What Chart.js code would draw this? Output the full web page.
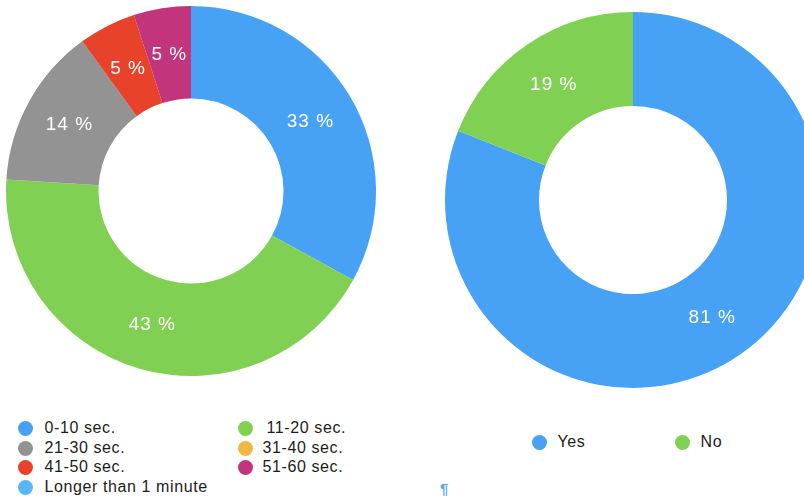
<!DOCTYPE html>
<html>
<head>
<meta charset="utf-8">
<script src="https://cdn.jsdelivr.net/npm/chart.js@4"></script>
<style>
  html, body { margin: 0; padding: 0; background: #fff; }
  body { width: 804px; height: 500px; position: relative; overflow: hidden;
         font-family: "Liberation Sans", Arial, Helvetica, sans-serif; }
  .wrap { position: absolute; }
  .key { position: absolute; height: 20px; line-height: 20px; font-size: 16px;
         letter-spacing: 0.6px; color: #1c1c1c; white-space: nowrap; }
  .dot { position: absolute; width: 15px; height: 15px; border-radius: 50%; top: 2.5px; }
  .pil { position: absolute; left: 440px; top: 480px; font-size: 15px; font-weight: bold; color: #5aa8ee; }
</style>
</head>
<body>
<div class="wrap" id="w1" style="left:6px;top:6px;width:370px;height:370px"><canvas id="timeChart"></canvas></div>
<div class="wrap" id="w2" style="left:445px;top:12px;width:376px;height:376px"><canvas id="yesNoChart"></canvas></div>
<div id="legend1"></div>
<div id="legend2"></div>
<div class="pil">¶</div>
<script>
var timeLabels = ["0-10 sec.", "11-20 sec.", "21-30 sec.", "31-40 sec.", "41-50 sec.", "51-60 sec.", "Longer than 1 minute"];
var timeValues = [33, 43, 14, 0, 5, 5, 0];
var timeColors = ["#47a1f5", "#80d153", "#939393", "#f0b843", "#e8432a", "#c2347b", "#58b5f7"];

var answerLabels = ["Yes", "No"];
var answerValues = [81, 19];
var answerColors = ["#47a1f5", "#80d153"];

// white "NN %" text in the middle of every non-empty slice
var sliceLabels = {
    id: "sliceLabels",
    afterDatasetsDraw: function (chart) {
        var ctx = chart.ctx;
        var data = chart.data.datasets[0].data;
        ctx.save();
        ctx.fillStyle = "#ffffff";
        ctx.font = "19px 'Liberation Sans', Arial, sans-serif";
        if ("letterSpacing" in ctx) ctx.letterSpacing = "1px";
        ctx.textAlign = "center";
        ctx.textBaseline = "middle";
        chart.getDatasetMeta(0).data.forEach(function (arc, i) {
            if (!data[i]) return;
            var p = arc.tooltipPosition();
            ctx.fillText(data[i] + " %", p.x, p.y + 1);
        });
        ctx.restore();
    }
};

function doughnut(id, labels, values, colors) {
    return new Chart(id, {
        type: "doughnut",
        data: {
            labels: labels,
            datasets: [{ data: values, backgroundColor: colors, borderWidth: 0 }]
        },
        options: {
            responsive: true,
            maintainAspectRatio: false,
            animation: false,
            cutout: "50%",
            layout: { padding: 0 },
            plugins: { legend: { display: false }, tooltip: { enabled: false } }
        },
        plugins: [sliceLabels]
    });
}

function legend(el, labels, colors, cols) {
    var box = document.getElementById(el);
    labels.forEach(function (name, i) {
        var c = cols[i];
        var item = document.createElement("div");
        item.className = "key";
        item.style.left = (c.x - 7.5) + "px";
        item.style.top = (c.y - 10) + "px";
        item.style.paddingLeft = c.gap + "px";
        var dot = document.createElement("span");
        dot.className = "dot";
        dot.style.left = "0px";
        dot.style.background = colors[i];
        item.appendChild(dot);
        item.appendChild(document.createTextNode(name));
        box.appendChild(item);
    });
}

doughnut("timeChart", timeLabels, timeValues, timeColors);
doughnut("yesNoChart", answerLabels, answerValues, answerColors);

legend("legend1", timeLabels, timeColors, [
    { x: 25, y: 428, gap: 27 }, { x: 245, y: 428, gap: 29 },
    { x: 25, y: 448, gap: 27 }, { x: 245, y: 448, gap: 25 },
    { x: 25, y: 467, gap: 27 }, { x: 245, y: 467, gap: 25 },
    { x: 25, y: 487, gap: 27 }
]);
legend("legend2", answerLabels, answerColors, [
    { x: 539, y: 442, gap: 26 }, { x: 682, y: 442, gap: 26 }
]);
</script>
</body>
</html>
